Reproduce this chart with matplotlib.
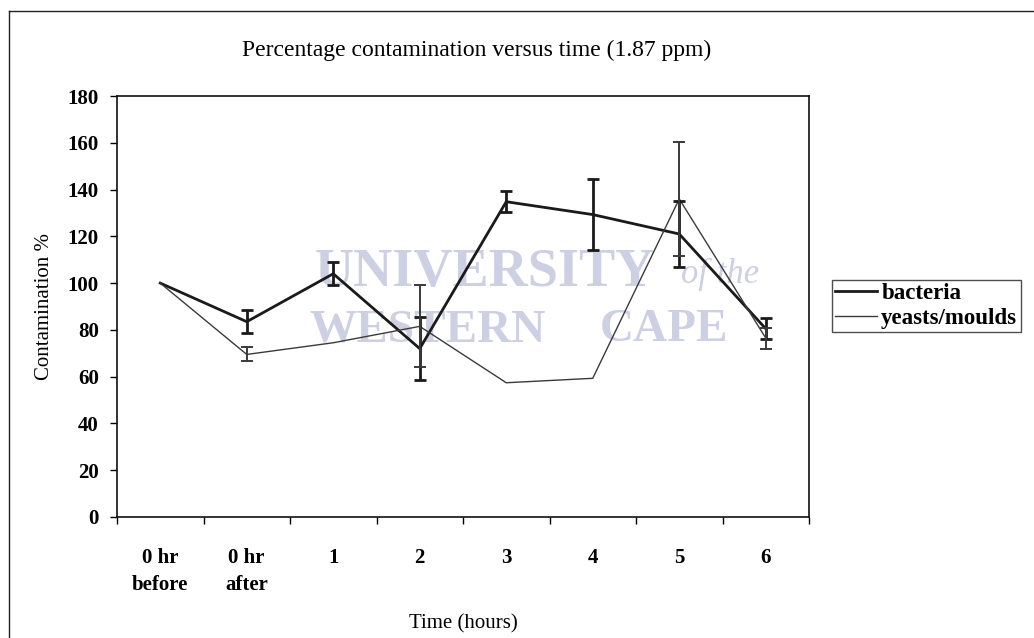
import numpy as np
import matplotlib
matplotlib.use("Agg")
import matplotlib.pyplot as plt
from matplotlib.lines import Line2D

categories = ["0 hr\nbefore", "0 hr\nafter", "1", "2", "3", "4", "5", "6"]
bacteria = [100, 83.5, 104, 72, 134.8, 129.3, 121, 80.5]
bacteria_err = [0, 5, 5, 13.5, 4.5, 15.3, 14, 4.5]
yeasts = [100, 69.5, 74.5, 81.5, 57.4, 59.3, 136, 76.5]
yeasts_err = [0, 3, 0, 17.5, 0, 0, 24.5, 4.5]
yticks = list(range(0, 181, 20))

plt.rcParams['font.family'] = ['Liberation Serif', 'DejaVu Serif']

fig = plt.figure(figsize=(10.34, 6.38), dpi=100)
fig.patch.set_facecolor('white')
ax = fig.add_axes([117/1034, 1-517/638, (809-117)/1034, (517-96)/638])

# faint watermark text
wm = '#cdd0e3'
ax.text(0.286, 0.58, "UNIVERSITY", transform=ax.transAxes, fontsize=39, color=wm,
        ha='left', va='center', fontweight='bold', zorder=0)
ax.text(0.815, 0.575, "of the", transform=ax.transAxes, fontsize=25, color=wm,
        ha='left', va='center', style='italic', zorder=0)
ax.text(0.278, 0.444, "WESTERN", transform=ax.transAxes, fontsize=34, color=wm,
        ha='left', va='center', fontweight='bold', zorder=0)
ax.text(0.698, 0.444, "CAPE", transform=ax.transAxes, fontsize=34, color=wm,
        ha='left', va='center', fontweight='bold', zorder=0)

x = np.arange(len(categories))
ax.plot(x, bacteria, color='#1a1a1a', lw=2.0, label='bacteria', zorder=3)
ax.plot(x, yeasts, color='#3a3a3a', lw=1.0, label='yeasts/moulds', zorder=3)

bm = np.array(bacteria_err) > 0
ax.errorbar(x[bm], np.array(bacteria)[bm], yerr=np.array(bacteria_err)[bm], fmt='none',
            ecolor='#1a1a1a', elinewidth=2.0, capsize=4.5, capthick=2.0, zorder=4)
ym = np.array(yeasts_err) > 0
ax.errorbar(x[ym], np.array(yeasts)[ym], yerr=np.array(yeasts_err)[ym], fmt='none',
            ecolor='#3a3a3a', elinewidth=1.4, capsize=4.5, capthick=1.4, zorder=4)

ax.set_xlim(-0.5, len(categories) - 0.5)
ax.set_ylim(0, 180)
ax.set_yticks(yticks)
ax.set_yticklabels([str(v) for v in yticks], fontsize=15, fontweight='bold')
ax.set_xticks(x)
ax.set_xticklabels(categories, fontsize=15, fontweight='bold', linespacing=1.5)
ax.set_xticks(np.arange(-0.5, len(categories), 1.0), minor=True)
ax.tick_params(axis='x', which='major', length=0, pad=22)
ax.tick_params(axis='x', which='minor', length=5, width=1, direction='out')
ax.tick_params(axis='y', length=5, width=1, direction='out', pad=8)
for s in ax.spines.values():
    s.set_linewidth(1.2)
    s.set_color('#111111')

ax.set_title("Percentage contamination versus time (1.87 ppm)", fontsize=17, pad=29, x=0.52)
ax.set_xlabel("Time (hours)", fontsize=15, labelpad=14)
ax.set_ylabel("Contamination %", fontsize=15, labelpad=10)

leg = ax.legend(loc='center left', bbox_to_anchor=(832/1034, 1-306/638), bbox_transform=fig.transFigure,
                frameon=True, fancybox=False, fontsize=16.5, handlelength=1.8, handletextpad=0.2,
                borderpad=0.15, labelspacing=0.15, borderaxespad=0)
leg.get_frame().set_edgecolor('#222222')
leg.get_frame().set_linewidth(1.0)
for t in leg.get_texts():
    t.set_fontweight('bold')

# outer frame
fig.add_artist(Line2D([9/1034, 9/1034], [0, 1-11/638], transform=fig.transFigure, color='#222222', lw=1.0))
fig.add_artist(Line2D([9/1034, 1], [1-11/638, 1-11/638], transform=fig.transFigure, color='#222222', lw=1.0))

fig.savefig("out.png", dpi=100, facecolor='white')
